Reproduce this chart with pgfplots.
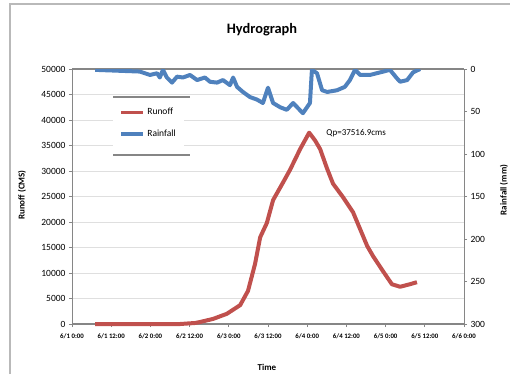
\documentclass[border=0pt]{standalone}
\usepackage{pgfplots}
\pgfplotsset{compat=1.18}
\usepackage{fontspec}
\setmainfont{Carlito}
\definecolor{runred}{RGB}{192,80,77}
\definecolor{rainblue}{RGB}{79,129,189}
\definecolor{axgray}{RGB}{134,134,134}
\begin{document}
\begin{tikzpicture}[x=1pt,y=1pt]
\path[use as bounding box] (0,0) rectangle (510,-374);
\draw[gray!55, line width=1.5pt] (10,-374) -- (10,-4) -- (510,-4);
\node[font=\bfseries\Large] at (262,-30) {Hydrograph};
\begin{axis}[at={(72pt,-324pt)}, anchor=south west, scale only axis,
  width=392pt, height=255pt,
  xmin=0, xmax=10, ymin=0, ymax=50000,
  xtick={0,...,10},
  xticklabels={6/1 0:00,6/1 12:00,6/2 0:00,6/2 12:00,6/3 0:00,6/3 12:00,6/4 0:00,6/4 12:00,6/5 0:00,6/5 12:00,6/6 0:00},
  x tick label style={font=\bfseries\fontsize{6.8}{7}\selectfont, yshift=-3pt},
  ytick={0,5000,...,50000},
  scaled y ticks=false,
  y tick label style={font=\fontsize{9.5}{11}\selectfont},
  /pgf/number format/.cd, 1000 sep={}, assume math mode=true, /pgfplots/.cd,
  ymajorgrids, grid style={gray!25, line width=0.8pt},
  axis line style={axgray, line width=1pt},
  tick style={axgray, line width=0.8pt}, tick align=outside, major tick length=3pt,
  xtick pos=bottom, ytick pos=left,
  clip=false,
]
\draw[axgray, line width=2pt] (rel axis cs:0,1) -- (rel axis cs:1,1);
\draw[axgray, line width=2pt] (rel axis cs:0,0) -- (rel axis cs:1,0);
\addplot[runred, line width=4pt, line join=round] coordinates {
(0.59,0) (2.76,0) (3.14,200) (3.27,400) (3.60,1000) (3.95,2000) (4.29,3700)
(4.49,6500) (4.67,11800) (4.80,17000) (4.97,19800) (5.13,24300) (5.38,27700)
(5.56,30200) (5.82,34300) (6.05,37517) (6.20,36000) (6.33,34300) (6.51,30400)
(6.66,27500) (6.91,24900) (7.17,21900) (7.35,18600) (7.53,15300) (7.68,13300)
(7.93,10400) (8.16,7800) (8.37,7300) (8.62,7800) (8.80,8200)
};
\node[font=\fontsize{9}{10}\selectfont] at (axis cs:7.25,37400) {Qp=37516.9cms};
\end{axis}
\begin{axis}[at={(72pt,-324pt)}, anchor=south west, scale only axis,
  width=392pt, height=255pt,
  xmin=0, xmax=10, ymin=0, ymax=300, y dir=reverse,
  axis y line*=right, axis x line=none,
  ytick={0,50,...,300},
  y tick label style={font=\fontsize{9.5}{11}\selectfont},
  /pgf/number format/assume math mode=true,
  axis line style={axgray, line width=1pt},
  tick style={axgray, line width=0.8pt}, tick align=outside, major tick length=3pt,
  legend style={at={(0.105,0.886)}, anchor=north west, draw=none, fill=white,
    font=\fontsize{9.5}{11}\selectfont, row sep=10pt, inner ysep=8pt, inner xsep=6pt},
  legend cell align=left,
  legend image code/.code={\draw[#1] (0pt,0pt) -- (22pt,0pt);},
]
\addlegendimage{runred, line width=3.5pt}
\addlegendentry{Runoff}
\addplot[rainblue, line width=4pt, line join=round] coordinates {
(0.59,1) (1.73,3) (1.99,7) (2.17,5) (2.24,10) (2.32,1) (2.42,10) (2.55,16)
(2.68,9) (2.83,10) (3.01,7) (3.19,13) (3.39,10) (3.52,15) (3.70,16) (3.85,13)
(4.03,19) (4.11,10) (4.21,21) (4.36,27) (4.54,33) (4.72,36) (4.87,40) (4.92,33)
(5.00,22) (5.13,40) (5.31,45) (5.48,48) (5.64,40) (5.89,52) (6.07,40) (6.12,1)
(6.25,5) (6.38,25) (6.51,27) (6.76,25) (6.96,21) (7.09,13) (7.22,1) (7.35,7)
(7.60,7) (7.86,4) (8.11,1) (8.29,11) (8.37,15) (8.55,13) (8.70,4) (8.88,0)
};
\addlegendentry{Rainfall}
\end{axis}
\draw[axgray, line width=1.5pt] (113,-97) -- (190,-97);
\draw[axgray, line width=1.5pt] (113,-155) -- (190,-155);
\node[rotate=90, font=\bfseries\fontsize{9}{10}\selectfont] at (22,-195) {Runoff (CMS)};
\node[rotate=90, font=\bfseries\fontsize{9}{10}\selectfont] at (504,-190) {Rainfall (mm)};
\node[font=\bfseries\fontsize{9}{10}\selectfont] at (267,-367) {Time};
\end{tikzpicture}
\end{document}
